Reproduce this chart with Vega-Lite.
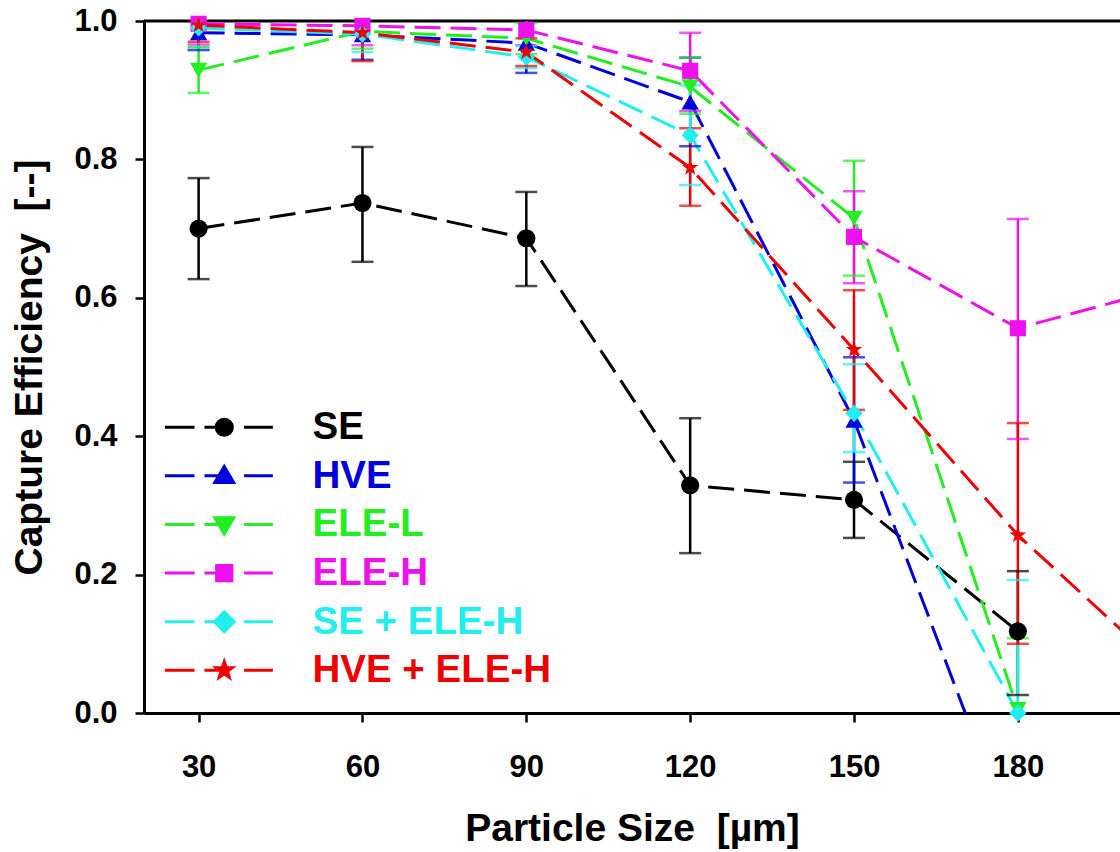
{
  "$schema": "https://vega.github.io/schema/vega-lite/v6.json",
  "autosize": {"type": "none"},
  "padding": {"left": 144, "top": 21, "right": 0, "bottom": 139},
  "width": 976,
  "height": 692,
  "background": "white",
  "config": {
    "view": {"stroke": null},
    "font": "Liberation Sans",
    "axis": {
      "grid": false,
      "domainColor": "black",
      "domainWidth": 3,
      "tickColor": "black",
      "tickWidth": 2.5,
      "tickSize": 9,
      "labelFont": "Liberation Sans",
      "labelFontWeight": "bold",
      "labelFontSize": 31,
      "labelColor": "black",
      "titleFont": "Liberation Sans",
      "titleFontWeight": "bold",
      "titleFontSize": 39,
      "titleColor": "black"
    }
  },
  "data": {
    "values": [
      {"s": "SE", "x": 30, "v": 0.700, "lo": 0.627, "hi": 0.773},
      {"s": "SE", "x": 60, "v": 0.737, "lo": 0.652, "hi": 0.818},
      {"s": "SE", "x": 90, "v": 0.686, "lo": 0.617, "hi": 0.753},
      {"s": "SE", "x": 120, "v": 0.329, "lo": 0.231, "hi": 0.426},
      {"s": "SE", "x": 150, "v": 0.308, "lo": 0.253, "hi": 0.363},
      {"s": "SE", "x": 180, "v": 0.118, "lo": 0.026, "hi": 0.205},
      {"s": "HVE", "x": 30, "v": 0.983, "lo": 0.958, "hi": 1.008},
      {"s": "HVE", "x": 60, "v": 0.980, "lo": 0.944, "hi": 1.010},
      {"s": "HVE", "x": 90, "v": 0.968, "lo": 0.925, "hi": 1.010},
      {"s": "HVE", "x": 120, "v": 0.883, "lo": 0.819, "hi": 0.947},
      {"s": "HVE", "x": 150, "v": 0.423, "lo": 0.333, "hi": 0.514},
      {"s": "HVE", "x": 180, "v": -0.2, "lo": null, "hi": null},
      {"s": "ELE-L", "x": 30, "v": 0.929, "lo": 0.896, "hi": 0.962},
      {"s": "ELE-L", "x": 60, "v": 0.985, "lo": 0.960, "hi": 1.010},
      {"s": "ELE-L", "x": 90, "v": 0.975, "lo": 0.952, "hi": 0.997},
      {"s": "ELE-L", "x": 120, "v": 0.905, "lo": 0.866, "hi": 0.947},
      {"s": "ELE-L", "x": 150, "v": 0.715, "lo": 0.632, "hi": 0.798},
      {"s": "ELE-L", "x": 180, "v": 0.005, "lo": -0.1, "hi": 0.108},
      {"s": "ELE-H", "x": 30, "v": 0.996, "lo": 0.966, "hi": 1.020},
      {"s": "ELE-H", "x": 60, "v": 0.993, "lo": 0.965, "hi": 1.020},
      {"s": "ELE-H", "x": 90, "v": 0.987, "lo": 0.965, "hi": 1.009},
      {"s": "ELE-H", "x": 120, "v": 0.928, "lo": 0.870, "hi": 0.983},
      {"s": "ELE-H", "x": 150, "v": 0.688, "lo": 0.621, "hi": 0.754},
      {"s": "ELE-H", "x": 180, "v": 0.556, "lo": 0.396, "hi": 0.714},
      {"s": "ELE-H", "x": 210, "v": 0.62, "lo": null, "hi": null},
      {"s": "SE + ELE-H", "x": 30, "v": 0.990, "lo": 0.962, "hi": 1.020},
      {"s": "SE + ELE-H", "x": 60, "v": 0.981, "lo": 0.955, "hi": 1.007},
      {"s": "SE + ELE-H", "x": 90, "v": 0.948, "lo": 0.932, "hi": 0.964},
      {"s": "SE + ELE-H", "x": 120, "v": 0.835, "lo": 0.763, "hi": 0.907},
      {"s": "SE + ELE-H", "x": 150, "v": 0.433, "lo": 0.377, "hi": 0.504},
      {"s": "SE + ELE-H", "x": 180, "v": 0.0, "lo": -0.19, "hi": 0.192},
      {"s": "HVE + ELE-H", "x": 30, "v": 0.994, "lo": 0.970, "hi": 1.018},
      {"s": "HVE + ELE-H", "x": 60, "v": 0.983, "lo": 0.942, "hi": 1.024},
      {"s": "HVE + ELE-H", "x": 90, "v": 0.955, "lo": 0.935, "hi": 0.975},
      {"s": "HVE + ELE-H", "x": 120, "v": 0.788, "lo": 0.733, "hi": 0.845},
      {"s": "HVE + ELE-H", "x": 150, "v": 0.525, "lo": 0.438, "hi": 0.611},
      {"s": "HVE + ELE-H", "x": 180, "v": 0.257, "lo": 0.100, "hi": 0.419},
      {"s": "HVE + ELE-H", "x": 210, "v": 0.04, "lo": null, "hi": null}
    ]
  },
  "layer": [
    {
      "data": {"values": [{"top": 1}]},
      "mark": {"type": "rule", "color": "black", "strokeWidth": 3},
      "encoding": {"y": {"field": "top", "type": "quantitative"}}
    },
    {
      "mark": {"type": "line", "strokeWidth": 3, "strokeDash": [26, 10], "clip": true},
      "encoding": {
        "x": {
          "field": "x", "type": "quantitative",
          "scale": {"domain": [20, 198.7], "nice": false, "zero": false},
          "axis": {
            "values": [30, 60, 90, 120, 150, 180],
            "title": "Particle Size \u00a0[µm]",
            "labelPadding": 30,
            "titlePadding": 27
          }
        },
        "y": {
          "field": "v", "type": "quantitative",
          "scale": {"domain": [0, 1], "nice": false, "zero": false},
          "axis": {
            "values": [0, 0.2, 0.4, 0.6, 0.8, 1.0],
            "format": ".1f",
            "title": "Capture Efficiency \u00a0[--]",
            "labelPadding": 18,
            "titlePadding": 24
          }
        },
        "color": {
          "field": "s", "type": "nominal",
          "scale": {
            "domain": ["SE", "HVE", "ELE-L", "ELE-H", "SE + ELE-H", "HVE + ELE-H"],
            "range": ["#000000", "#0000dd", "#22ee22", "#ee11ee", "#22eeee", "#ee0000"]
          },
          "legend": {
            "orient": "none",
            "legendX": 61,
            "legendY": 387,
            "title": null,
            "padding": 0,
            "symbolSize": 324,
            "symbolStrokeWidth": 3,
            "labelOffset": 69,
            "labelFont": "Liberation Sans",
            "labelFontWeight": "bold",
            "labelFontSize": 38.5,
            "labelLimit": 0,
            "rowPadding": 9.6,
            "encode": {
              "symbols": {
                "update": {
                  "shape": {"signal": "(datum.value === 'SE' ? 'M-6.6,0H-3.3M-2.2,0H0M2.2,0H5.4M0.9,0A0.9,0.9,0,1,1,-0.9,0A0.9,0.9,0,1,1,0.9,0Z' : datum.value === 'HVE' ? 'M-6.6,0H-3.3M-2.2,0H0M2.2,0H5.4M0,-1.05L1.05,0.75L-1.05,0.75Z' : datum.value === 'ELE-L' ? 'M-6.6,0H-3.3M-2.2,0H0M2.2,0H5.4M-1.05,-0.75L1.05,-0.75L0,1.05Z' : datum.value === 'ELE-H' ? 'M-6.6,0H-3.3M-2.2,0H0M2.2,0H5.4M-0.85,-0.85H0.85V0.85H-0.85Z' : datum.value === 'SE + ELE-H' ? 'M-6.6,0H-3.3M-2.2,0H0M2.2,0H5.4M0,-1.1L1.1,0L0,1.1L-1.1,0Z' : 'M-6.6,0H-3.3M-2.2,0H0M2.2,0H5.4M0,-0.95L0.22,-0.3L0.9,-0.29L0.36,0.12L0.56,0.77L0,0.38L-0.56,0.77L-0.36,0.12L-0.9,-0.29L-0.22,-0.3Z')"},
                  "fill": {"scale": "color", "field": "value"},
                  "stroke": {"scale": "color", "field": "value"},
                  "strokeWidth": {"value": 3},
                  "strokeDash": {"value": []},
                  "opacity": {"value": 1}
                }
              },
              "labels": {
                "update": {"fill": {"scale": "color", "field": "value"}}
              }
            }
          }
        }
      }
    },
    {
      "transform": [{"filter": "isValid(datum.lo)"}],
      "mark": {"type": "rule", "strokeWidth": 2.5, "clip": true},
      "encoding": {
        "x": {"field": "x", "type": "quantitative"},
        "y": {"field": "lo", "type": "quantitative"},
        "y2": {"field": "hi"},
        "color": {"field": "s", "type": "nominal", "legend": null}
      }
    },
    {
      "transform": [{"filter": "isValid(datum.lo)"}],
      "mark": {"type": "tick", "orient": "horizontal", "size": 22, "thickness": 2.5, "clip": true},
      "encoding": {
        "x": {"field": "x", "type": "quantitative"},
        "y": {"field": "lo", "type": "quantitative"},
        "color": {"field": "s", "type": "nominal", "legend": null}
      }
    },
    {
      "transform": [{"filter": "isValid(datum.hi)"}],
      "mark": {"type": "tick", "orient": "horizontal", "size": 22, "thickness": 2.5, "clip": true},
      "encoding": {
        "x": {"field": "x", "type": "quantitative"},
        "y": {"field": "hi", "type": "quantitative"},
        "color": {"field": "s", "type": "nominal", "legend": null}
      }
    },
    {
      "transform": [{"filter": "datum.s === 'SE' && datum.v >= -0.01 && datum.x <= 190"}],
      "mark": {"type": "point", "filled": true, "opacity": 1, "size": 330, "shape": "circle"},
      "encoding": {
        "x": {"field": "x", "type": "quantitative"},
        "y": {"field": "v", "type": "quantitative"},
        "color": {"field": "s", "type": "nominal", "legend": null}
      }
    },
    {
      "transform": [{"filter": "datum.s === 'HVE' && datum.v >= -0.01 && datum.x <= 190"}],
      "mark": {"type": "point", "filled": true, "opacity": 1, "size": 300, "shape": "triangle-up"},
      "encoding": {
        "x": {"field": "x", "type": "quantitative"},
        "y": {"field": "v", "type": "quantitative"},
        "color": {"field": "s", "type": "nominal", "legend": null}
      }
    },
    {
      "transform": [{"filter": "datum.s === 'ELE-L' && datum.v >= -0.01 && datum.x <= 190"}],
      "mark": {"type": "point", "filled": true, "opacity": 1, "size": 300, "shape": "triangle-down"},
      "encoding": {
        "x": {"field": "x", "type": "quantitative"},
        "y": {"field": "v", "type": "quantitative"},
        "color": {"field": "s", "type": "nominal", "legend": null}
      }
    },
    {
      "transform": [{"filter": "datum.s === 'ELE-H' && datum.v >= -0.01 && datum.x <= 190"}],
      "mark": {"type": "point", "filled": true, "opacity": 1, "size": 260, "shape": "square"},
      "encoding": {
        "x": {"field": "x", "type": "quantitative"},
        "y": {"field": "v", "type": "quantitative"},
        "color": {"field": "s", "type": "nominal", "legend": null}
      }
    },
    {
      "transform": [{"filter": "datum.s === 'SE + ELE-H' && datum.v >= -0.01 && datum.x <= 190"}],
      "mark": {"type": "point", "filled": true, "opacity": 1, "size": 300, "shape": "diamond"},
      "encoding": {
        "x": {"field": "x", "type": "quantitative"},
        "y": {"field": "v", "type": "quantitative"},
        "color": {"field": "s", "type": "nominal", "legend": null}
      }
    },
    {
      "transform": [{"filter": "datum.s === 'HVE + ELE-H' && datum.v >= -0.01 && datum.x <= 190"}],
      "mark": {"type": "point", "filled": true, "opacity": 1, "size": 300, "shape": "M0,-1L0.235,-0.324L0.951,-0.309L0.38,0.124L0.588,0.809L0,0.4L-0.588,0.809L-0.38,0.124L-0.951,-0.309L-0.235,-0.324Z"},
      "encoding": {
        "x": {"field": "x", "type": "quantitative"},
        "y": {"field": "v", "type": "quantitative"},
        "color": {"field": "s", "type": "nominal", "legend": null}
      }
    }
  ]
}
